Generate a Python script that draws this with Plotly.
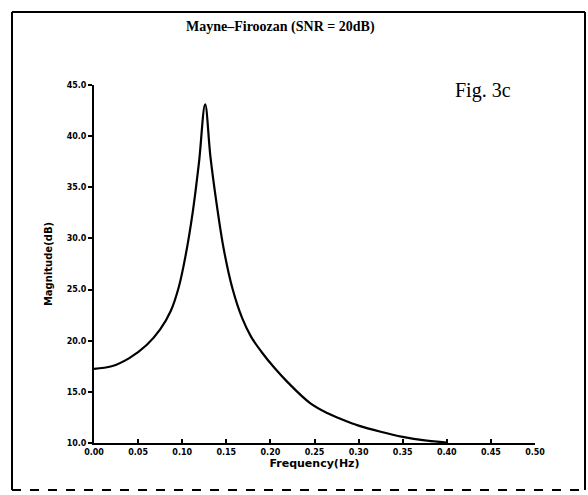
import plotly.graph_objects as go

freq = [0.0, 0.02, 0.04, 0.06, 0.075, 0.087, 0.096, 0.104, 0.112, 0.119, 0.126,
        0.132, 0.139, 0.147, 0.157, 0.168, 0.178, 0.19, 0.205, 0.22, 0.245, 0.265,
        0.28, 0.30, 0.325, 0.35, 0.375, 0.40]
mag = [17.25, 17.5, 18.3, 19.6, 21.1, 22.9, 25.2, 28.4, 32.6, 37.4, 43.1,
       38.0, 33.4, 29.0, 25.1, 22.2, 20.4, 18.9, 17.3, 15.9, 13.9, 12.9,
       12.35, 11.7, 11.1, 10.6, 10.25, 10.05]

xticks = [0.0, 0.05, 0.10, 0.15, 0.20, 0.25, 0.30, 0.35, 0.40, 0.45, 0.50]
yticks = [10, 15, 20, 25, 30, 35, 40, 45]

W, H = 588, 495
L, R, T, B = 94, 535, 85, 443


def px(x):
    return (x - L) / (R - L)


def py(y):
    return (B - y) / (B - T)


fig = go.Figure()
fig.add_trace(go.Scatter(x=freq, y=mag, mode="lines",
                         line=dict(color="black", width=2.2, shape="spline", smoothing=1.0),
                         showlegend=False, hoverinfo="skip"))

tickfont = dict(family="DejaVu Sans", size=8, color="black", weight="bold")
fig.update_xaxes(range=[0, 0.5], tickvals=xticks, tickformat=".2f",
                 showline=True, linecolor="black", linewidth=2,
                 ticks="inside", ticklen=4, tickwidth=2, tickcolor="black",
                 showgrid=False, zeroline=False, tickfont=tickfont,
                 title=dict(text="Frequency(Hz)", standoff=4,
                            font=dict(family="DejaVu Sans", size=11, color="black", weight="bold")))
fig.update_yaxes(range=[10, 45], tickvals=yticks, tickformat=".1f",
                 showline=True, linecolor="black", linewidth=2,
                 ticks="outside", ticklen=4, tickwidth=2, tickcolor="black",
                 showgrid=False, zeroline=False, tickfont=tickfont,
                 title=dict(text="Magnitude(dB)", standoff=12,
                            font=dict(family="DejaVu Sans", size=10, color="black", weight="bold")))

# outer frame
fx0, fx1, fy0, fy1 = px(12), px(585), py(12), py(490)
for x0, y0, x1, y1, dash in [(fx0, fy1, fx0, fy0, "solid"), (fx0, fy0, fx1, fy0, "solid"),
                             (fx1, fy0, fx1, fy1, "solid"), (fx0, fy1, fx1, fy1, "dash")]:
    fig.add_shape(type="line", xref="paper", yref="paper", x0=x0, y0=y0, x1=x1, y1=y1,
                  line=dict(color="black", width=2, dash=dash))

fig.add_annotation(text="Mayne\u2013Firoozan (SNR = 20dB)", xref="paper", yref="paper",
                   x=px(280), y=py(27), showarrow=False, xanchor="center", yanchor="middle",
                   font=dict(family="Liberation Serif", size=14, color="black", weight="bold"))
fig.add_annotation(text="Fig. 3c", xref="paper", yref="paper",
                   x=px(453), y=py(90), showarrow=False, xanchor="left", yanchor="middle",
                   font=dict(family="Liberation Serif", size=20, color="black"))

fig.update_layout(width=W, height=H, margin=dict(l=L, r=W - R, t=T, b=H - B),
                  paper_bgcolor="white", plot_bgcolor="white")
fig.write_html("out.html")
